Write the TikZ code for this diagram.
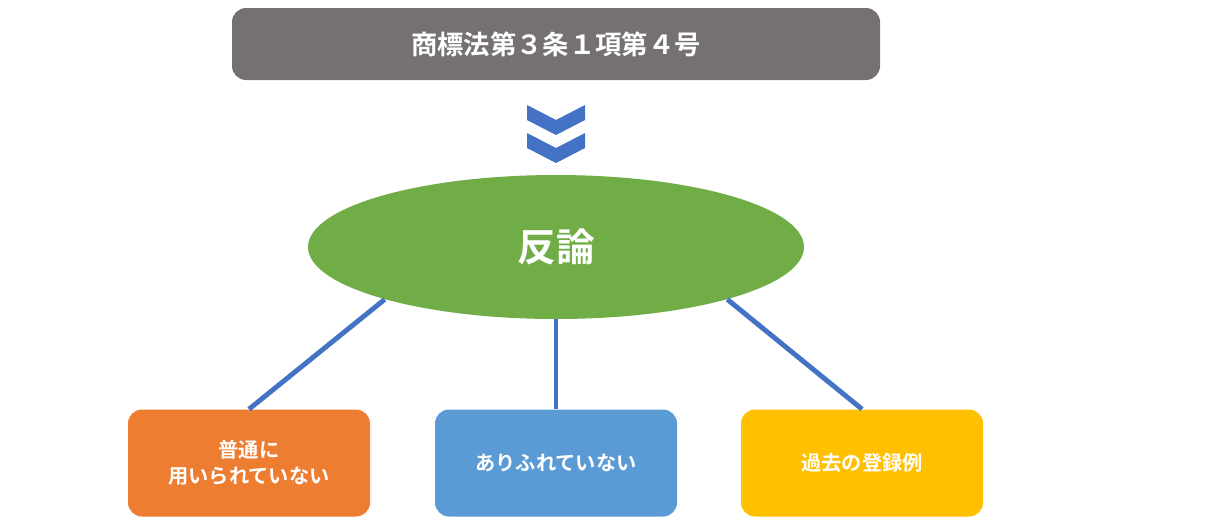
\documentclass[tikz,border=0pt]{standalone}
\usepackage{fontspec}
\newfontfamily\jpb{Noto Sans CJK JP Bold}
\usetikzlibrary{shapes.geometric}
\definecolor{titlegray}{HTML}{767171}
\definecolor{arrowblue}{HTML}{4472C4}
\definecolor{ellgreen}{HTML}{70AD47}
\definecolor{boxorange}{HTML}{ED7D31}
\definecolor{boxblue}{HTML}{5B9BD5}
\definecolor{boxyellow}{HTML}{FFC000}
\tikzset{
  box/.style={rounded corners=8pt, minimum width=242*0.02cm, minimum height=107*0.02cm,
    text=white, font=\jpb\fontsize{11.5}{15}\selectfont, align=center, inner sep=0pt},
  link/.style={arrowblue, line width=2.8pt}
}
\begin{document}
\begin{tikzpicture}[x=0.02cm, y=-0.02cm]
  \useasboundingbox (0,0) rectangle (1222,531);
  % title
  \node[fill=titlegray, rounded corners=8pt, minimum width=648*0.02cm, minimum height=72*0.02cm,
    text=white, font=\jpb\fontsize{15}{18}\selectfont] (title) at (556,44) {商標法第３条１項第４号};
  % chevrons
  \foreach \dy in {0,28}
    \fill[arrowblue] (527,105+\dy) -- (556,120+\dy) -- (585,105+\dy) -- (585,120+\dy)
      -- (556,135+\dy) -- (527,120+\dy) -- cycle;
  % main
  \node[ellipse, fill=ellgreen, minimum width=496*0.02cm, minimum height=144*0.02cm,
    text=white, font=\jpb\fontsize{22}{26}\selectfont, inner sep=0pt] (ell) at (556,247) {反論};
  \node[box, fill=boxorange] (left) at (249,463) {普通に\\用いられていない};
  \node[box, fill=boxblue] (mid) at (556,463) {ありふれていない};
  \node[box, fill=boxyellow] (right) at (862,463) {過去の登録例};
  \draw[link] (ell.197) -- (left.north);
  \draw[link] (ell.south) -- (mid.north);
  \draw[link] (ell.343) -- (right.north);
\end{tikzpicture}
\end{document}
